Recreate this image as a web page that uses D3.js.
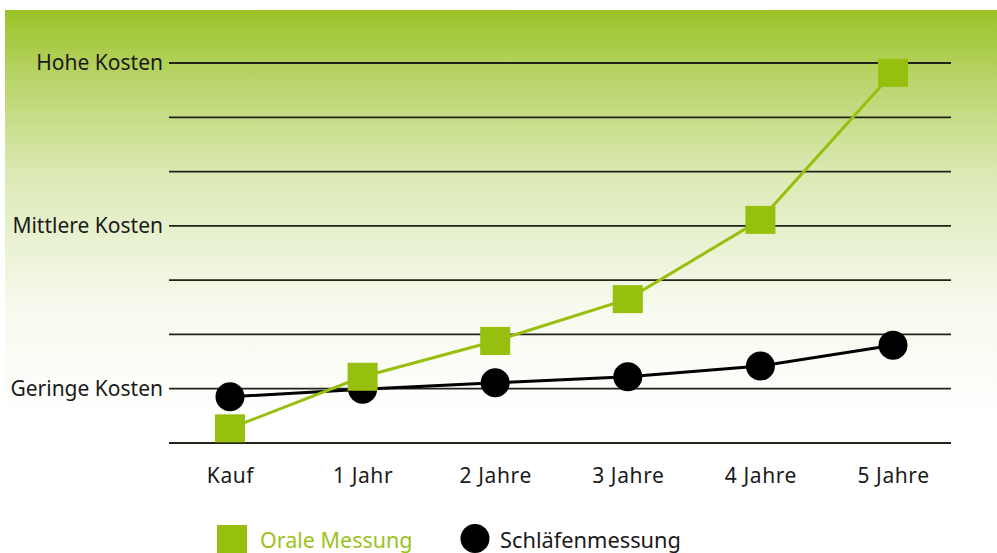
<!DOCTYPE html>
<html><head><meta charset="utf-8">
<script src="https://cdn.jsdelivr.net/npm/d3@7"></script>
<style>body{margin:0;background:#fff}svg{display:block}</style>
</head><body>
<svg id="c" width="997" height="553"></svg>
<script>
const categories = ["Kauf","1 Jahr","2 Jahre","3 Jahre","4 Jahre","5 Jahre"];
const oraleMessung = [0.27,1.22,1.88,2.65,4.11,6.82];
const schlaefenmessung = [0.85,0.99,1.11,1.22,1.42,1.80];
const yTickValues = [0,1,2,3,4,5,6,7];
const yTickLabels = {1:"Geringe Kosten",4:"Mittlere Kosten",7:"Hohe Kosten"};
const seriesNames = ["Orale Messung","Schläfenmessung"];

const svg = d3.select("#c");
const defs = svg.append("defs");
const g = defs.append("linearGradient").attr("id","bg").attr("x1",0).attr("y1",0).attr("x2",0).attr("y2",1);
g.append("stop").attr("offset","0%").attr("stop-color","#9bc226");
g.append("stop").attr("offset","12%").attr("stop-color","#b7d365");
g.append("stop").attr("offset","30%").attr("stop-color","#dbe9b4");
g.append("stop").attr("offset","55%").attr("stop-color","#f7faee");
g.append("stop").attr("offset","75%").attr("stop-color","#ffffff");
svg.append("rect").attr("x",5).attr("y",10).attr("width",992).attr("height",543).attr("fill","url(#bg)");

const x = d3.scalePoint().domain(categories).range([230,893]);
const y = d3.scaleLinear().domain([0,7]).range([443,63]);

const green = "#97bf0d", black = "#000";
const font = "'Noto Sans', sans-serif";

// gridlines
svg.append("g").selectAll("line").data(yTickValues).join("line")
  .attr("x1",169).attr("x2",951)
  .attr("y1",d=>y(d)).attr("y2",d=>y(d))
  .attr("stroke","#222219").attr("stroke-width",1.8);

// y labels
svg.append("g").selectAll("text").data(yTickValues.filter(d=>yTickLabels[d])).join("text")
  .attr("x",163).attr("y",d=>y(d)).attr("dy","0.35em")
  .attr("text-anchor","end").attr("font-family",font).attr("font-size",21)
  .attr("fill","#1a1a1a").text(d=>yTickLabels[d]);

// x axis labels
const xAxis = d3.axisBottom(x).tickSize(0).tickPadding(0);
const xa = svg.append("g").attr("transform","translate(0,476)").call(xAxis);
xa.select(".domain").remove();
xa.selectAll("text").attr("font-family",font).attr("font-size",21).attr("letter-spacing","0.6px").attr("fill","#1a1a1a").attr("dy","0.35em");

// lines
const line = d3.line().x((d,i)=>x(categories[i])).y(d=>y(d));
svg.append("path").datum(schlaefenmessung).attr("d",line).attr("fill","none").attr("stroke",black).attr("stroke-width",3);
svg.append("path").datum(oraleMessung).attr("d",line).attr("fill","none").attr("stroke",green).attr("stroke-width",3);

// markers
svg.append("g").selectAll("circle").data(schlaefenmessung).join("circle")
  .attr("cx",(d,i)=>x(categories[i])).attr("cy",d=>y(d)).attr("r",14.5).attr("fill",black);
svg.append("g").selectAll("rect").data(oraleMessung).join("rect")
  .attr("x",(d,i)=>x(categories[i])-15).attr("y",d=>y(d)-14).attr("width",30).attr("height",28).attr("fill",green);

// legend
const lg = svg.append("g");
lg.append("rect").attr("x",217).attr("y",525).attr("width",30).attr("height",28).attr("fill",green);
lg.append("text").attr("x",260).attr("y",540).attr("dy","0.35em").attr("font-family",font).attr("font-size",21.5).attr("fill","#9ac31c").text(seriesNames[0]);
lg.append("circle").attr("cx",475).attr("cy",538.5).attr("r",14.5).attr("fill",black);
lg.append("text").attr("x",500).attr("y",540).attr("dy","0.35em").attr("font-family",font).attr("font-size",21.8).attr("fill","#1a1a1a").text(seriesNames[1]);
</script>
</body></html>
